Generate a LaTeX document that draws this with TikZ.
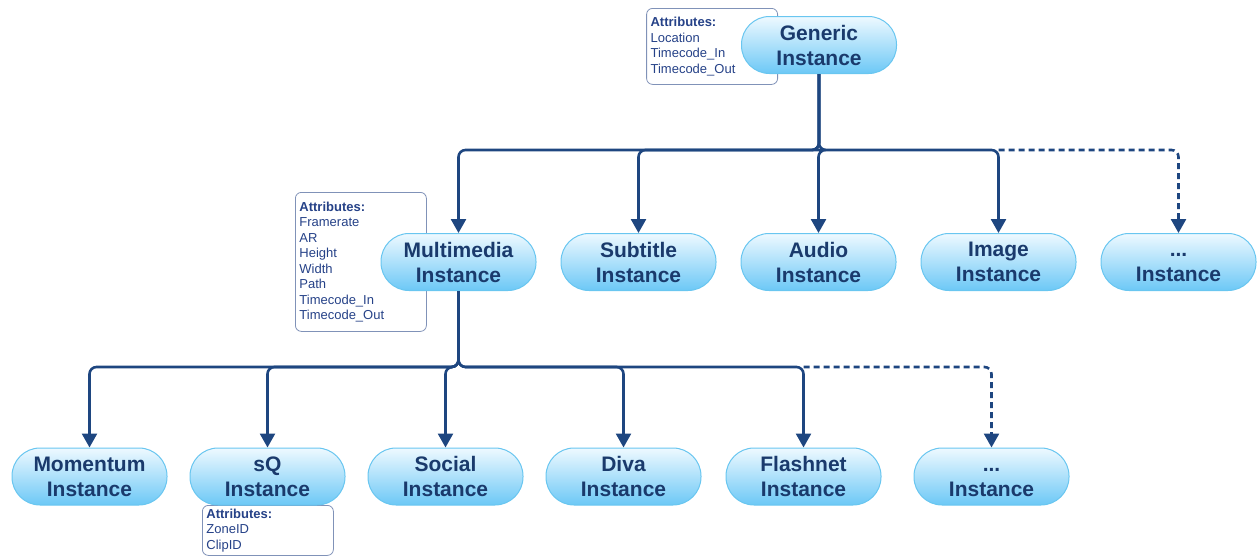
\documentclass[tikz,border=0pt]{standalone}
\usepackage{fontspec}
\setmainfont{Liberation Sans}
\usepackage{tikz}
\usetikzlibrary{arrows.meta, positioning, backgrounds}

\definecolor{linecol}{RGB}{30,70,128}
\definecolor{textcol}{RGB}{26,58,108}
\definecolor{pillrim}{RGB}{105,198,240}
\definecolor{pilltop}{RGB}{238,249,255}
\definecolor{pillbot}{RGB}{108,200,246}
\definecolor{attrrim}{RGB}{128,146,184}
\definecolor{attrtext}{RGB}{38,66,136}

\begin{document}
\begin{tikzpicture}[
    x=1pt, y=-1pt,
    node distance=24pt,
    pill/.style={rectangle, rounded corners=28pt, minimum width=155pt, minimum height=57pt, draw=pillrim, line width=1pt, top color=pilltop, bottom color=pillbot, text=textcol, font=\fontsize{21}{25}\selectfont\bfseries, align=center, inner sep=2pt},
    attrbox/.style={rectangle, rounded corners=6pt, draw=attrrim, line width=0.8pt, fill=white, text=attrtext, font=\fontsize{13}{15.5}\selectfont, align=left, text width=123pt, inner xsep=4pt, inner ysep=#1},
    arrow/.style={-{Triangle[width=15pt, length=14pt]}, draw=linecol, line width=2.6pt, rounded corners=7pt},
    maybe/.style={dash pattern=on 6pt off 4pt}
]
\useasboundingbox (0,0) rectangle (1257,557);

% top
\node (gen) [pill] at (819,45) {Generic\\Instance};

% second row
\node (mm) [pill] at (458.5,262) {Multimedia\\Instance};
\node (sub) [pill, right=of mm] {Subtitle\\Instance};
\node (aud) [pill, right=of sub] {Audio\\Instance};
\node (img) [pill, right=of aud] {Image\\Instance};
\node (more1) [pill, right=of img] {\vphantom{Ig}...\\Instance};

% third row
\node (mom) [pill] at (89.5,476.5) {Momentum\\Instance};
\node (sq) [pill, right=22pt of mom] {sQ\\Instance};
\node (soc) [pill, right=22pt of sq] {Social\\Instance};
\node (diva) [pill, right=22pt of soc] {Diva\\Instance};
\node (flash) [pill, right=24pt of diva] {Flashnet\\Instance};
\node (more2) [pill, right=32pt of flash] {\vphantom{Ig}...\\Instance};

% attributes
\begin{scope}[on background layer]
\node (genattr) [attrbox=5pt, minimum height=76pt, anchor=north east] at (778,8)
    {\textbf{Attributes:}\\Location\\Timecode\_In\\Timecode\_Out};
\node (mmattr) [attrbox=5pt, minimum height=139pt, anchor=north west] at (295,192)
    {\textbf{Attributes:}\\Framerate\\AR\\Height\\Width\\Path\\Timecode\_In\\Timecode\_Out};
\node (sqattr) [attrbox=1pt, minimum height=50pt, anchor=north west] at (202,505)
    {\textbf{Attributes:}\\ZoneID\\ClipID};
\end{scope}

% buses
\path (gen.south) ++(0,76) coordinate (busA);
\path (mm.south) ++(0,76) coordinate (busB);

\foreach \n in {mm, sub, aud, img}
    \draw[arrow] (gen.south) -- (busA) -| (\n.north);
\draw[arrow, maybe] (img.north |- busA) -| (more1.north);

\foreach \n in {mom, sq, soc, diva, flash}
    \draw[arrow] (mm.south) -- (busB) -| (\n.north);
\draw[arrow, maybe] (flash.north |- busB) -| (more2.north);
\end{tikzpicture}
\end{document}
